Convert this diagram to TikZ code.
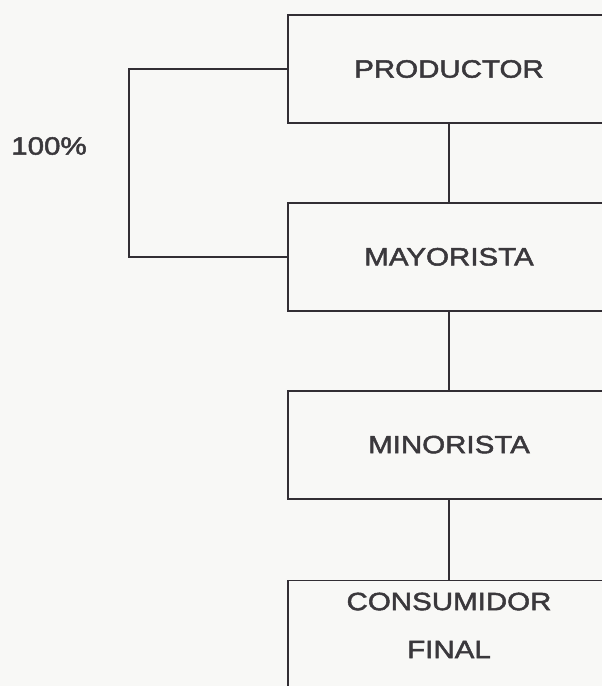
\documentclass[tikz,border=0pt]{standalone}
\usepackage{fontspec}
\setmainfont{Liberation Sans}
\newfontfamily\boxfont[FakeStretch=1.18,FakeBold=2]{Liberation Sans}
\usetikzlibrary{positioning}
\definecolor{linegray}{RGB}{50,46,52}
\definecolor{textgray}{RGB}{58,56,60}
\definecolor{paper}{RGB}{248,248,246}

\begin{document}
\begin{tikzpicture}[
                x=1pt, y=-1pt,
                node distance=78pt,
                line width=1.8pt,
                draw=linegray,
                every node/.style={
                        draw=linegray,
                        line width=1.8pt,
                        rectangle,
                        minimum width=322pt,
                        minimum height=108pt,
                        align=center,
                        text=textgray,
                        font=\boxfont\fontsize{25}{48}\selectfont
                    },
                textnode/.style={
                        draw=none,
                        minimum width=0pt,
                        minimum height=0pt
                    }
            ]

            % Page
            \fill[paper] (0,0) rectangle (602,686);
            \useasboundingbox (0,0) rectangle (602,686);
            \clip (0,0) rectangle (602,686);

            % Boxes of the chain
            \node (prod) at (449,69) {PRODUCTOR};
            \node[below=of prod] (mayor) {MAYORISTA};
            \node[below=of mayor] (minor) {MINORISTA};
            \node[below=80pt of minor, text depth=18pt] (cons) {CONSUMIDOR\\FINAL};

            % Links between the boxes
            \draw (prod) -- (mayor);
            \draw (mayor) -- (minor);
            \draw (minor) -- (cons);

            % Direct link with its share
            \coordinate (turn) at (129,69);
            \draw (prod.west) -- (turn) |- (mayor.west);
            \node[textnode] (pct) at (49,146) {100\%};

        \end{tikzpicture}
\end{document}
